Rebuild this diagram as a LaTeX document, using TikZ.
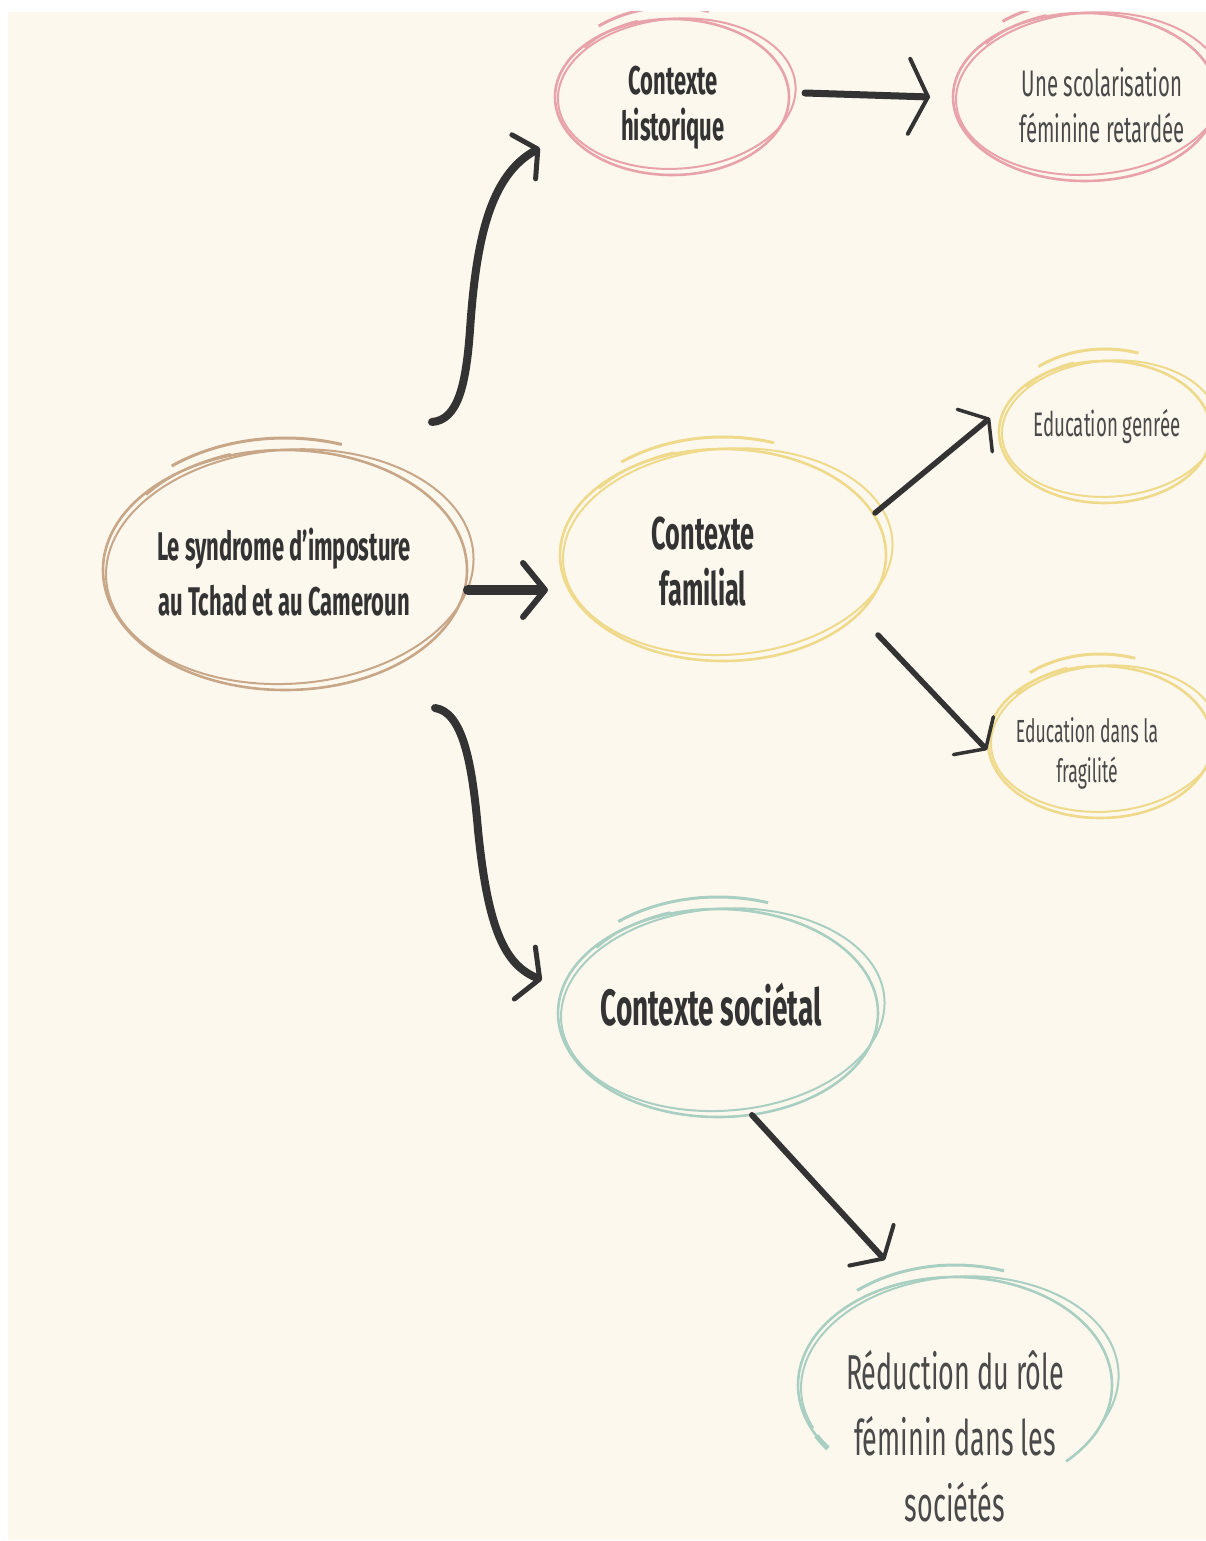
\documentclass[tikz,border=0pt]{standalone}
\usepackage{fontspec}
\setmainfont{Fira Sans}[FakeStretch=0.55]
\usetikzlibrary{arrows.meta,calc}
\definecolor{cream}{HTML}{FDF8EE}
\definecolor{ringbrown}{HTML}{C8A688}
\definecolor{ringpink}{HTML}{E8A2AA}
\definecolor{ringyellow}{HTML}{EFD98A}
\definecolor{ringteal}{HTML}{A8CFC2}
\definecolor{ink}{HTML}{333333}
\definecolor{softink}{HTML}{4A4A4A}
\tikzset{
  lab/.style={align=center, inner sep=0pt, text=softink},
  labb/.style={align=center, inner sep=0pt, text=ink},
  arr/.style={draw=ink, line cap=round, line join=round},
}
% sketchy double ring: cx, cy, rx, ry, colour
\newcommand\skring[5]{%
  \draw[#5, line width=2.6] (#1,#2) ellipse [x radius=#3, y radius=#4];
  \draw[#5, line width=2, rotate around={4:(#1,#2)}] (#1+5,#2+3) ellipse [x radius=#3+2, y radius=#4-3];
  \draw[#5, line width=3] (#1,#2) ++(128:{#3+2} and {#4+12}) arc [start angle=128, end angle=72, x radius=#3+2, y radius=#4+12];
  \draw[#5, line width=2] (#1,#2) ++(142:{#3-6} and {#4+2}) arc [start angle=142, end angle=108, x radius=#3-6, y radius=#4+2];
}
\begin{document}
\begin{tikzpicture}[x=1pt,y=1pt]
\useasboundingbox (0,0) rectangle (1206,-1541);
\fill[white] (0,0) rectangle (1206,-1541);
\fill[cream] (8,-12) rectangle (1206,-1540);
\begin{scope}
\clip (8,-12) rectangle (1206,-1540);
% rings
\skring{285}{-570}{182}{120}{ringbrown}
\skring{672}{-97}{117}{78}{ringpink}
\skring{1085}{-97}{132}{84}{ringpink}
\skring{723}{-555}{163}{106}{ringyellow}
\skring{1105}{-432}{106}{71}{ringyellow}
\skring{1100}{-742}{112}{76}{ringyellow}
\skring{718}{-1013}{160}{104}{ringteal}
% open ring of the last node
\draw[ringteal, line width=2.6] (955,-1385) ++(-45:157 and 108) arc [start angle=-45, end angle=215, x radius=157, y radius=108];
\draw[ringteal, line width=2, rotate around={4:(955,-1385)}] (960,-1382) ++(-30:159 and 105) arc [start angle=-30, end angle=200, x radius=159, y radius=105];
\draw[ringteal, line width=3] (955,-1385) ++(128:159 and 120) arc [start angle=128, end angle=72, x radius=159, y radius=120];
\draw[ringteal, line width=5] (955,-1385) ++(208:157 and 108) arc [start angle=208, end angle=216, x radius=157, y radius=108];
\end{scope}
% nodes
\node[labb, font=\fontsize{40}{55}\selectfont\bfseries] (main) at (284,-572) {Le syndrome d'imposture\\au Tchad et au Cameroun};
\node[labb, font=\fontsize{40}{46}\selectfont\bfseries] (hist) at (673,-108) {Contexte\\historique};
\node[lab, font=\fontsize{37}{46}\selectfont] (scol) at (1102,-105) {Une scolarisation\\féminine retardée};
\node[labb, font=\fontsize{46}{56}\selectfont\bfseries] (fam) at (703,-562) {Contexte\\familial};
\node[lab, font=\fontsize{34}{38}\selectfont] (genr) at (1107,-427) {Education genrée};
\node[lab, font=\fontsize{32}{40}\selectfont] (frag) at (1087,-753) {Education dans la\\fragilité};
\node[labb, font=\fontsize{51}{60}\selectfont\bfseries] (soc) at (711,-1005) {Contexte sociétal};
\node[lab, font=\fontsize{49}{66}\selectfont] (red) at (955,-1436) {Réduction du rôle\\féminin dans les\\sociétés};
% connectors
\draw[arr, line width=8, -{Straight Barb[length=16pt,width=50pt,line width=5pt,round]}]
  ($(main)+(148,150)$) .. controls (458,-420) and (466,-385) .. (470,-330)
  .. controls (476,-240) and (490,-175) .. ($(hist)+(-133,-40)$);
\draw[arr, line width=10, -{Straight Barb[length=22pt,width=54pt,line width=6pt,round]}]
  ($(main)+(184,-18)$) -- ($(fam)+(-155,-28)$);
\draw[arr, line width=8, -{Straight Barb[length=16pt,width=56pt,line width=5pt,round]}]
  ($(main)+(151,-136)$) .. controls (462,-712) and (472,-760) .. (478,-830)
  .. controls (488,-930) and (505,-965) .. ($(soc)+(-169,25)$);
\draw[arr, line width=7, -{Straight Barb[length=19pt,width=75pt,line width=4pt,round]}]
  ($(hist)+(132,15)$) -- ($(scol)+(-172,8)$);
\draw[arr, line width=5.5, -{Straight Barb[length=18pt,width=55pt,line width=3.5pt,round]}]
  ($(fam)+(172,49)$) -- ($(genr)+(-117,9)$);
\draw[arr, line width=5.5, -{Straight Barb[length=18pt,width=55pt,line width=3.5pt,round]}]
  ($(fam)+(175,-73)$) -- ($(frag)+(-100,3)$);
\draw[arr, line width=6, -{Straight Barb[length=18pt,width=60pt,line width=4pt,round]}]
  ($(soc)+(41,-110)$) -- ($(red)+(-70,176)$);
\end{tikzpicture}
\end{document}
